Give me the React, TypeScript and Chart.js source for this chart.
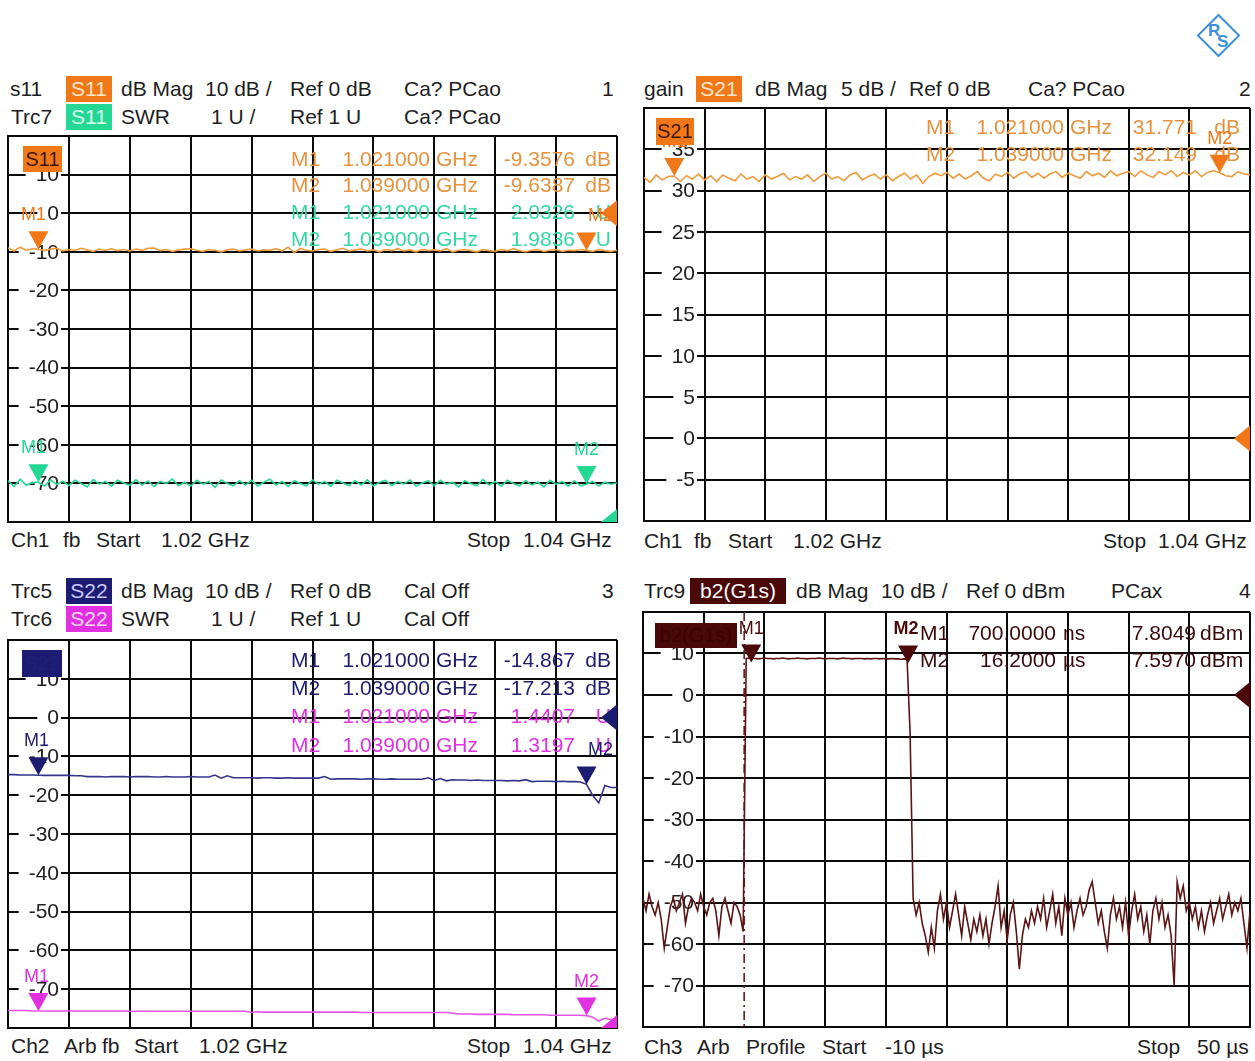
import React, { useEffect, useRef } from "react";
import { Chart, registerables } from "chart.js";

Chart.register(...registerables);

// ---------------- sweep settings (axis categories) ----------------
const sweepStartMHz = 1020;
const sweepStopMHz = 1040;
const sweepPoints = 101;
const profileStartUs = -10;
const profileStopUs = 50;
const profilePoints = 201;

// ---------------- trace values ----------------
const s11DbMag = [
  -9.0, -9.8, -8.8, -9.6, -9.2, -9.36, -9.7, -9.3, -9.1, -9.8,
  -9.4, -9.6, -9.1, -9.5, -9.9, -9.3, -9.6, -9.2, -9.7, -9.4,
  -9.8, -9.3, -9.6, -9.1, -9.0, -9.7, -9.4, -9.9, -9.5, -9.3,
  -9.2, -9.6, -9.9, -9.4, -9.6, -10.0, -9.5, -9.3, -9.8, -9.5,
  -9.3, -9.8, -9.5, -9.6, -9.2, -9.8, -8.8, -10.2, -9.2, -9.6,
  -9.8, -9.4, -9.3, -9.9, -9.5, -9.1, -9.8, -9.5, -9.3, -9.8,
  -9.5, -10.0, -9.4, -9.7, -9.2, -9.8, -9.5, -10.0, -9.4, -9.7,
  -9.5, -9.8, -9.2, -10.0, -9.6, -9.4, -9.7, -10.0, -9.4, -9.7,
  -9.9, -9.4, -9.7, -9.2, -9.7, -10.0, -9.6, -9.4, -9.9, -9.6,
  -9.4, -9.9, -9.6, -9.7, -9.4, -9.64, -9.9, -9.4, -9.7, -9.9, -9.6,
];
const s11Swr = [
  2.07, 1.92, 2.11, 1.95, 2.03, 2.03, 1.93, 2.09, 1.97, 2.06,
  1.94, 2.08, 2.0, 1.91, 2.1, 1.98, 2.05, 1.93, 2.08, 2.01,
  1.95, 2.09, 1.96, 2.06, 1.92, 2.05, 2.0, 2.11, 1.94, 2.03,
  1.93, 2.08, 1.98, 2.05, 1.9, 2.09, 2.0, 1.94, 2.07, 1.96,
  2.08, 1.93, 2.03, 2.11, 1.96, 2.05, 1.92, 2.07, 2.0, 1.94,
  2.09, 1.98, 2.05, 1.93, 2.08, 2.01, 1.94, 2.07, 1.96, 2.09,
  1.93, 2.03, 2.08, 1.94, 2.05, 1.98, 2.09, 1.93, 2.01, 2.07,
  1.94, 2.08, 1.98, 2.03, 1.91, 2.07, 2.0, 1.94, 2.1, 1.96,
  2.05, 1.93, 2.08, 2.0, 1.94, 2.07, 1.96, 2.03, 1.91, 2.08,
  1.98, 2.05, 1.93, 2.07, 1.94, 1.98, 2.05, 1.93, 2.03, 1.98, 2.01,
];
const s21DbMag = [
  31.6, 31.0, 31.9, 31.3, 31.7, 31.77, 31.1, 31.8, 31.4, 32.0,
  31.3, 31.8, 31.1, 31.9, 31.5, 31.2, 32.0, 31.4, 31.7, 31.1,
  31.9, 31.4, 31.7, 32.1, 31.3, 31.7, 31.4, 31.9, 31.1, 31.7,
  32.1, 31.4, 31.7, 31.2, 31.9, 32.2, 31.3, 31.7, 32.0, 31.4,
  31.9, 31.2, 31.7, 32.1, 31.4, 31.9, 30.9, 31.7, 32.1, 31.8,
  32.2, 31.5, 32.0, 31.4, 31.8, 32.3, 31.5, 31.2, 32.0, 31.7,
  32.2, 31.5, 32.0, 32.3, 31.6, 32.1, 31.5, 32.0, 32.3, 31.6,
  32.1, 31.8, 31.5, 32.3, 31.8, 32.1, 31.6, 32.4, 31.8, 32.1,
  32.3, 31.7, 32.4, 31.9, 31.6, 32.3, 31.9, 32.4, 31.7, 32.2,
  31.9, 32.4, 31.7, 32.2, 32.4, 32.15, 31.8, 31.7, 32.3, 32.0, 31.9,
];
const s22DbMag = [
  -14.7, -14.7, -14.8, -14.8, -14.8, -14.87, -14.9, -14.9, -14.9, -14.9, -14.9, -15.0, -15.0,
  -15.2, -15.2, -15.2, -15.3, -15.2, -15.2, -15.2, -15.3, -15.2, -15.2, -15.2, -15.3, -15.3,
  -15.2, -15.3, -15.3, -15.3, -15.2, -15.3, -15.3, -15.3,
  -14.8, -15.6, -15.0, -15.5,
  -15.5, -15.5, -15.5, -15.6, -15.5, -15.5, -15.6, -15.6, -15.5, -15.6, -15.6, -15.6, -15.6, -15.6,
  -15.2, -15.9,
  -15.8, -15.8, -15.8, -15.8, -15.9, -15.8, -15.8, -15.9, -15.9, -15.8, -15.9, -15.9, -15.9, -15.9, -15.9,
  -15.5, -16.2, -15.7, -16.3, -16.0,
  -16.1, -16.1, -16.2, -16.1, -16.2, -16.2, -16.2, -16.2, -16.3, -16.2, -16.3,
  -16.0, -16.5,
  -16.4, -16.4, -16.4, -16.5, -16.4, -16.5, -16.5, -16.6,
  -17.2, -20.0, -22.0, -17.5, -18.0, -18.0,
];
const s22Swr = [
  1.45, 1.45, 1.45, 1.45, 1.44, 1.44, 1.44, 1.44, 1.44, 1.44,
  1.44, 1.44, 1.44, 1.44, 1.44, 1.44, 1.44, 1.44, 1.44, 1.44,
  1.43, 1.43, 1.43, 1.43, 1.43, 1.43, 1.43, 1.43, 1.43, 1.43,
  1.43, 1.43, 1.43, 1.43, 1.43, 1.43, 1.43, 1.43, 1.43, 1.43,
  1.40, 1.42,
  1.41, 1.41, 1.41, 1.41, 1.41, 1.41, 1.41, 1.41, 1.41, 1.41,
  1.41, 1.41, 1.41, 1.41, 1.41, 1.41, 1.40, 1.40, 1.40, 1.40,
  1.40, 1.40, 1.40, 1.40, 1.40, 1.40, 1.40, 1.40, 1.40, 1.40, 1.40,
  1.38, 1.36,
  1.36, 1.36, 1.35, 1.35, 1.35, 1.35, 1.35, 1.35, 1.34, 1.34,
  1.34, 1.34, 1.34, 1.34, 1.33, 1.33, 1.33, 1.33, 1.33, 1.33,
  1.32, 1.28, 1.18, 1.25, 1.22, 1.2,
];
const b2PreGate = [
  -49, -52, -48, -51, -53, -50, -54, -61, -56, -51,
  -49, -52, -50, -48, -55, -51, -49, -50, -52, -48,
  -51, -53, -50, -49, -52, -58, -51, -49, -52, -55,
  -50, -51, -53, -57,
];
const b2Pulse = [
  8.8, 8.9, 8.8, 8.8, 8.7, 8.8, 8.9, 8.8, 8.8, 8.7,
  8.8, 8.8, 8.9, 8.8, 8.7, 8.8, 8.8, 8.9, 8.8, 8.8,
  8.7, 8.8, 8.8, 8.8, 8.9, 8.8, 8.7, 8.8, 8.8, 8.8,
  8.7, 8.8, 8.9, 8.8, 8.8, 8.7, 8.8, 8.8, 8.8, 8.7,
  8.8, 8.7, 8.8, 8.8, 8.7, 8.8, 8.7, 8.7, 8.8, 8.7,
  8.7, 8.6, 8.7, 8.6,
];
const b2PostPulse = [
  -9, -49, -53, -50, -55, -58, -62, -56, -61, -52,
  -48, -54, -50, -56, -52, -48, -53, -58, -51, -55,
  -59, -54, -57, -53, -58, -54, -60, -55, -51, -46,
  -56, -52, -59, -53, -50, -57, -66, -58, -54, -56,
  -52, -55, -51, -54, -49, -56, -52, -48, -55, -51,
  -58, -49, -53, -50, -56, -52, -49, -53, -51, -47,
  -45, -50, -55, -52, -57, -61, -53, -49, -54, -51,
  -56, -50, -58, -52, -48, -54, -51, -57, -53, -60,
  -52, -49, -54, -50, -56, -53, -58, -70, -45, -49,
  -46, -52, -50, -54, -51, -56, -52, -57, -53, -50,
  -55, -52, -49, -54, -51, -48, -53, -50, -52, -49,
  -55, -61, -52,
];

// ---------------- markers ----------------
const markerFreqMHz = [1021, 1039];
const s11DbMarkers = [-9.3576, -9.6387];
const s11SwrMarkers = [2.0326, 1.9836];
const s21DbMarkers = [31.771, 32.149];
const s22DbMarkers = [-14.867, -17.213];
const s22SwrMarkers = [1.4407, 1.3197];
const b2MarkerTimeUs = [0.7, 16.2];
const b2Markers = [7.8049, 7.597];
const gateTimeUs = 0;

// ---------------- tick labels ----------------
const ticksDb10 = [10, 0, -10, -20, -30, -40, -50, -60, -70];
const ticksDb5 = [35, 30, 25, 20, 15, 10, 5, 0, -5];

// ---------------- style ----------------
const FONT = '"Liberation Sans", Arial, sans-serif';
const FS = 21;
const TEXT = "#1e1e1e";
const GRID = "#0a0a0a";
const ORANGE = "#f07818";
const ORANGE_TXT = "#e8923e";
const ORANGE_TRACE = "#f09a3a";
const GREEN = "#22d892";
const GREEN_TXT = "#34d8a2";
const NAVY = "#1c1c72";
const NAVY_TRACE = "#34348c";
const MAGENTA = "#e030e0";
const MAGENTA_TRACE = "#e452e8";
const BROWN = "#4a0808";
const BROWN_TRACE = "#5c1414";

const freqAxis = Array.from(
  { length: sweepPoints },
  (_, i) => sweepStartMHz + (i * (sweepStopMHz - sweepStartMHz)) / (sweepPoints - 1)
);
const timeAxis = Array.from(
  { length: profilePoints },
  (_, i) => profileStartUs + (i * (profileStopUs - profileStartUs)) / (profilePoints - 1)
);
const b2Values = [...b2PreGate, ...b2Pulse, ...b2PostPulse];
const pts = (xs: number[], ys: number[]) => ys.map((y, i) => ({ x: xs[i], y }));

type Cell = { t: string; dx: number; align: CanvasTextAlign };
type Row = { color: string; dy: number; cells: Cell[] };
type Marker = { x: number; y: number; axis: string; color: string; label: string; ldx?: number; bold?: boolean };
type Ref = { axis: string; value: number; color: string };
type Box = { dx: number; dy: number; w: number; h: number; bg: string; text: string; color: string };
type Overlay = {
  yLabels: number[];
  readouts: Row[];
  markers: Marker[];
  refs: Ref[];
  boxes: Box[];
  gate?: { x: number; color: string };
};

type Cols = { m: number; f: number; fu: number; v: number; vu: number };
const colsL: Cols = { m: 283, f: 422, fu: 428, v: 567, vu: 603 };
const colsR: Cols = { m: 282, f: 420, fu: 426, v: 553, vu: 596 };

function freqRow(color: string, dy: number, label: string, fMHz: number, val: string, unit: string, c: Cols): Row {
  return {
    color,
    dy,
    cells: [
      { t: label, dx: c.m, align: "left" },
      { t: (fMHz / 1000).toFixed(6), dx: c.f, align: "right" },
      { t: "GHz", dx: c.fu, align: "left" },
      { t: val, dx: c.v, align: "right" },
      { t: unit, dx: c.vu, align: "right" },
    ],
  };
}

function makeOverlay(o: Overlay) {
  return {
    id: "vnaOverlay",
    beforeDatasetsDraw(chart: any) {
      const { ctx, chartArea: a, scales } = chart;
      ctx.save();
      ctx.font = `${FS}px ${FONT}`;
      ctx.textBaseline = "middle";
      ctx.textAlign = "right";
      const right = a.left + 51;
      for (const v of o.yLabels) {
        const py = scales.y.getPixelForValue(v);
        const t = String(v);
        const w = ctx.measureText(t).width;
        ctx.fillStyle = "#ffffff";
        ctx.fillRect(right - w - 10, py - 10, w + 12, 20);
        ctx.fillStyle = TEXT;
        ctx.fillText(t, right, py + 1);
      }
      if (o.gate) {
        const px = scales.x.getPixelForValue(o.gate.x);
        ctx.strokeStyle = o.gate.color;
        ctx.lineWidth = 1.6;
        ctx.setLineDash([9, 4, 2, 4]);
        ctx.beginPath();
        ctx.moveTo(px, a.top);
        ctx.lineTo(px, a.bottom);
        ctx.stroke();
        ctx.setLineDash([]);
      }
      ctx.restore();
    },
    afterDatasetsDraw(chart: any) {
      const { ctx, chartArea: a, scales } = chart;
      ctx.save();
      ctx.beginPath();
      ctx.rect(a.left, a.top, a.right - a.left, a.bottom - a.top);
      ctx.clip();
      ctx.textBaseline = "middle";
      for (const r of o.readouts) {
        ctx.fillStyle = r.color;
        ctx.font = `${FS}px ${FONT}`;
        for (const c of r.cells) {
          ctx.textAlign = c.align;
          ctx.fillText(c.t, a.left + c.dx, a.top + r.dy);
        }
      }
      for (const m of o.markers) {
        const px = scales.x.getPixelForValue(m.x);
        const py = scales[m.axis].getPixelForValue(m.y);
        ctx.fillStyle = m.color;
        ctx.beginPath();
        ctx.moveTo(px, py);
        ctx.lineTo(px - 10, py - 18);
        ctx.lineTo(px + 10, py - 18);
        ctx.closePath();
        ctx.fill();
        ctx.font = `${m.bold ? "bold " : ""}18px ${FONT}`;
        ctx.textAlign = "center";
        ctx.fillText(m.label, px + (m.ldx || 0), py - 34);
      }
      for (const r of o.refs) {
        const py = scales[r.axis].getPixelForValue(r.value);
        ctx.fillStyle = r.color;
        ctx.beginPath();
        ctx.moveTo(a.right - 16, py);
        ctx.lineTo(a.right, py - 13);
        ctx.lineTo(a.right, py + 13);
        ctx.closePath();
        ctx.fill();
      }
      for (const b of o.boxes) {
        ctx.fillStyle = b.bg;
        ctx.fillRect(a.left + b.dx, a.top + b.dy, b.w, b.h);
        ctx.fillStyle = b.color;
        ctx.font = `${FS - 1}px ${FONT}`;
        ctx.textAlign = "center";
        ctx.fillText(b.text, a.left + b.dx + b.w / 2, a.top + b.dy + b.h / 2 + 1);
      }
      ctx.restore();
    },
  };
}

type PanelDef = {
  box: { x: number; y: number; w: number; h: number };
  xMin: number;
  xMax: number;
  yMin: number;
  yMax: number;
  y2?: { min: number; max: number };
  datasets: { data: { x: number; y: number }[]; color: string; axis: string }[];
  overlay: Overlay;
};

const PAD = 4;

function Panel({ def }: { def: PanelDef }) {
  const ref = useRef<HTMLCanvasElement>(null);
  useEffect(() => {
    const gridOpts = { color: GRID, lineWidth: 2, drawTicks: false };
    const borderOpts = { display: true, color: GRID, width: 2 };
    const scales: any = {
      x: {
        type: "linear",
        min: def.xMin,
        max: def.xMax,
        ticks: { display: false, count: 11 },
        grid: gridOpts,
        border: borderOpts,
      },
      y: {
        type: "linear",
        min: def.yMin,
        max: def.yMax,
        ticks: { display: false, count: 11 },
        grid: gridOpts,
        border: borderOpts,
      },
    };
    if (def.y2) {
      scales.y2 = { type: "linear", display: false, min: def.y2.min, max: def.y2.max };
    }
    const chart = new Chart(ref.current as HTMLCanvasElement, {
      type: "line",
      data: {
        datasets: def.datasets.map((d) => ({
          data: d.data,
          borderColor: d.color,
          borderWidth: 1.6,
          pointRadius: 0,
          tension: 0,
          fill: false,
          yAxisID: d.axis,
        })),
      },
      options: {
        animation: false,
        responsive: false,
        maintainAspectRatio: false,
        events: [],
        layout: { padding: PAD },
        plugins: { legend: { display: false }, tooltip: { enabled: false } },
        scales,
      },
      plugins: [makeOverlay(def.overlay)],
    } as any);
    return () => chart.destroy();
  }, []);
  const w = def.box.w + 2 * PAD;
  const h = def.box.h + 2 * PAD;
  return (
    <canvas
      ref={ref}
      width={w}
      height={h}
      style={{ position: "absolute", left: def.box.x - PAD, top: def.box.y - PAD, width: w, height: h }}
    />
  );
}

// ---------------- panel definitions ----------------
const panelS11: PanelDef = {
  box: { x: 8, y: 136, w: 609, h: 386 },
  xMin: sweepStartMHz,
  xMax: sweepStopMHz,
  yMin: -80,
  yMax: 20,
  y2: { min: 1, max: 11 },
  datasets: [
    { data: pts(freqAxis, s11Swr), color: GREEN, axis: "y2" },
    { data: pts(freqAxis, s11DbMag), color: ORANGE_TRACE, axis: "y" },
  ],
  overlay: {
    yLabels: ticksDb10,
    readouts: [
      freqRow(ORANGE_TXT, 24, "M1", markerFreqMHz[0], s11DbMarkers[0].toFixed(4), "dB", colsL),
      freqRow(ORANGE_TXT, 50, "M2", markerFreqMHz[1], s11DbMarkers[1].toFixed(4), "dB", colsL),
      freqRow(GREEN_TXT, 77, "M1", markerFreqMHz[0], s11SwrMarkers[0].toFixed(4), "U", colsL),
      freqRow(GREEN_TXT, 104, "M2", markerFreqMHz[1], s11SwrMarkers[1].toFixed(4), "U", colsL),
    ],
    markers: [
      { x: markerFreqMHz[0], y: s11DbMarkers[0], axis: "y", color: ORANGE, label: "M1", ldx: -5 },
      { x: markerFreqMHz[1], y: s11DbMarkers[1], axis: "y", color: ORANGE, label: "M2", ldx: 14 },
      { x: markerFreqMHz[0], y: s11SwrMarkers[0], axis: "y2", color: GREEN, label: "M1", ldx: -5 },
      { x: markerFreqMHz[1], y: s11SwrMarkers[1], axis: "y2", color: GREEN, label: "M2", ldx: 0 },
    ],
    refs: [
      { axis: "y", value: 0, color: ORANGE },
      { axis: "y2", value: 1, color: GREEN },
    ],
    boxes: [{ dx: 15, dy: 10, w: 39, h: 26, bg: ORANGE, text: "S11", color: "#3a1800" }],
  },
};

const panelS21: PanelDef = {
  box: { x: 644, y: 108, w: 606, h: 413 },
  xMin: sweepStartMHz,
  xMax: sweepStopMHz,
  yMin: -10,
  yMax: 40,
  datasets: [{ data: pts(freqAxis, s21DbMag), color: ORANGE_TRACE, axis: "y" }],
  overlay: {
    yLabels: ticksDb5,
    readouts: [
      freqRow(ORANGE_TXT, 20, "M1", markerFreqMHz[0], s21DbMarkers[0].toFixed(3), "dB", colsR),
      freqRow(ORANGE_TXT, 47, "M2", markerFreqMHz[1], s21DbMarkers[1].toFixed(3), "dB", colsR),
    ],
    markers: [
      { x: markerFreqMHz[0], y: s21DbMarkers[0], axis: "y", color: ORANGE, label: "M1", ldx: 0 },
      { x: markerFreqMHz[1], y: s21DbMarkers[1], axis: "y", color: ORANGE, label: "M2", ldx: 0 },
    ],
    refs: [{ axis: "y", value: 0, color: ORANGE }],
    boxes: [{ dx: 12, dy: 10, w: 38, h: 27, bg: ORANGE, text: "S21", color: "#3a1800" }],
  },
};

const panelS22: PanelDef = {
  box: { x: 8, y: 640, w: 609, h: 388 },
  xMin: sweepStartMHz,
  xMax: sweepStopMHz,
  yMin: -80,
  yMax: 20,
  y2: { min: 1, max: 11 },
  datasets: [
    { data: pts(freqAxis, s22Swr), color: MAGENTA_TRACE, axis: "y2" },
    { data: pts(freqAxis, s22DbMag), color: NAVY_TRACE, axis: "y" },
  ],
  overlay: {
    yLabels: ticksDb10,
    readouts: [
      freqRow(NAVY, 21, "M1", markerFreqMHz[0], s22DbMarkers[0].toFixed(3), "dB", colsL),
      freqRow(NAVY, 49, "M2", markerFreqMHz[1], s22DbMarkers[1].toFixed(3), "dB", colsL),
      freqRow(MAGENTA, 77, "M1", markerFreqMHz[0], s22SwrMarkers[0].toFixed(4), "U", colsL),
      freqRow(MAGENTA, 106, "M2", markerFreqMHz[1], s22SwrMarkers[1].toFixed(4), "U", colsL),
    ],
    markers: [
      { x: markerFreqMHz[0], y: s22DbMarkers[0], axis: "y", color: NAVY, label: "M1", ldx: -2 },
      { x: markerFreqMHz[1], y: s22DbMarkers[1], axis: "y", color: NAVY, label: "M2", ldx: 14 },
      { x: markerFreqMHz[0], y: s22SwrMarkers[0], axis: "y2", color: MAGENTA, label: "M1", ldx: -2 },
      { x: markerFreqMHz[1], y: s22SwrMarkers[1], axis: "y2", color: MAGENTA, label: "M2", ldx: 0 },
    ],
    refs: [
      { axis: "y", value: 0, color: NAVY },
      { axis: "y2", value: 1, color: MAGENTA },
    ],
    boxes: [{ dx: 14, dy: 10, w: 40, h: 27, bg: NAVY, text: "S22", color: "#202076" }],
  },
};

const timeRow = (dy: number, label: string, tUs: number, val: number): Row => {
  const ns = tUs < 1;
  return {
    color: "#3a0a0a",
    dy,
    cells: [
      { t: label, dx: 277, align: "left" },
      { t: (ns ? tUs * 1000 : tUs).toFixed(4), dx: 413, align: "right" },
      { t: ns ? "ns" : "µs", dx: 420, align: "left" },
      { t: val.toFixed(4), dx: 553, align: "right" },
      { t: "dBm", dx: 557, align: "left" },
    ],
  };
};

const panelB2: PanelDef = {
  box: { x: 643, y: 612, w: 607, h: 415 },
  xMin: profileStartUs,
  xMax: profileStopUs,
  yMin: -80,
  yMax: 20,
  datasets: [{ data: pts(timeAxis, b2Values), color: BROWN_TRACE, axis: "y" }],
  overlay: {
    yLabels: ticksDb10,
    readouts: [
      timeRow(22, "M1", b2MarkerTimeUs[0], b2Markers[0]),
      timeRow(49, "M2", b2MarkerTimeUs[1], b2Markers[1]),
    ],
    markers: [
      { x: b2MarkerTimeUs[0], y: b2Markers[0], axis: "y", color: BROWN, label: "M1", ldx: 0 },
      { x: b2MarkerTimeUs[1], y: b2Markers[1], axis: "y", color: BROWN, label: "M2", ldx: -2, bold: true },
    ],
    refs: [{ axis: "y", value: 0, color: BROWN }],
    boxes: [{ dx: 12, dy: 11, w: 82, h: 25, bg: BROWN, text: "b2(G1s)", color: "#3a0404" }],
    gate: { x: gateTimeUs, color: "#6a1a1a" },
  },
};

// ---------------- header / footer text ----------------
type Word = [number, string];
const headS11a: Word[] = [[10, "s11"], [121, "dB Mag"], [205, "10 dB /"], [290, "Ref 0 dB"], [404, "Ca? PCao"], [602, "1"]];
const headS11b: Word[] = [[11, "Trc7"], [121, "SWR"], [211, "1 U /"], [290, "Ref 1 U"], [404, "Ca? PCao"]];
const headS21: Word[] = [[644, "gain"], [755, "dB Mag"], [841, "5 dB /"], [909, "Ref 0 dB"], [1028, "Ca? PCao"], [1239, "2"]];
const headS22a: Word[] = [[11, "Trc5"], [121, "dB Mag"], [205, "10 dB /"], [290, "Ref 0 dB"], [404, "Cal Off"], [602, "3"]];
const headS22b: Word[] = [[11, "Trc6"], [121, "SWR"], [211, "1 U /"], [290, "Ref 1 U"], [404, "Cal Off"]];
const headB2: Word[] = [[644, "Trc9"], [796, "dB Mag"], [881, "10 dB /"], [966, "Ref 0 dBm"], [1111, "PCax"], [1239, "4"]];
const footS11: Word[] = [[11, "Ch1"], [63, "fb"], [96, "Start"], [161, "1.02 GHz"], [467, "Stop"], [523, "1.04 GHz"]];
const footS21: Word[] = [[644, "Ch1"], [694, "fb"], [728, "Start"], [793, "1.02 GHz"], [1103, "Stop"], [1158, "1.04 GHz"]];
const footS22: Word[] = [[11, "Ch2"], [64, "Arb"], [102, "fb"], [134, "Start"], [199, "1.02 GHz"], [467, "Stop"], [523, "1.04 GHz"]];
const footB2: Word[] = [[644, "Ch3"], [697, "Arb"], [746, "Profile"], [822, "Start"], [885, "-10 µs"], [1137, "Stop"], [1197, "50 µs"]];

function Words({ words, y }: { words: Word[]; y: number }) {
  return (
    <>
      {words.map(([x, t], i) => (
        <div
          key={i}
          style={{
            position: "absolute",
            left: x,
            top: y - 12,
            height: 24,
            lineHeight: "24px",
            fontSize: FS,
            fontFamily: FONT,
            color: TEXT,
            whiteSpace: "pre",
          }}
        >
          {t}
        </div>
      ))}
    </>
  );
}

function Tag({ x, y, w, bg, color, text }: { x: number; y: number; w: number; bg: string; color: string; text: string }) {
  return (
    <div
      style={{
        position: "absolute",
        left: x,
        top: y - 13,
        width: w,
        height: 26,
        lineHeight: "26px",
        background: bg,
        color,
        fontSize: FS,
        fontFamily: FONT,
        textAlign: "center",
        whiteSpace: "pre",
      }}
    >
      {text}
    </div>
  );
}

function Logo() {
  return (
    <div style={{ position: "absolute", left: 1196, top: 13, width: 44, height: 44 }}>
      <div
        style={{
          position: "absolute",
          left: 7,
          top: 7,
          width: 27,
          height: 27,
          border: "2.5px solid #3d8fd8",
          transform: "rotate(45deg)",
        }}
      />
      <div style={{ position: "absolute", left: 12, top: 8, fontSize: 17, fontFamily: FONT, color: "#3d8fd8", fontWeight: "bold" }}>
        R
      </div>
      <div style={{ position: "absolute", left: 21, top: 19, fontSize: 17, fontFamily: FONT, color: "#3d8fd8", fontWeight: "bold" }}>
        S
      </div>
    </div>
  );
}

export default function App() {
  return (
    <div
      style={{
        position: "absolute",
        left: 0,
        top: 0,
        width: 1255,
        height: 1061,
        background: "#ffffff",
        overflow: "hidden",
      }}
    >
      <Logo />
      <Words words={headS11a} y={89} />
      <Tag x={66} y={89} w={46} bg={ORANGE} color="#ffe6cc" text="S11" />
      <Words words={headS11b} y={117} />
      <Tag x={66} y={117} w={46} bg={GREEN} color="#d8fff0" text="S11" />
      <Panel def={panelS11} />
      <Words words={footS11} y={540} />

      <Words words={headS21} y={89} />
      <Tag x={696} y={89} w={46} bg={ORANGE} color="#ffe6cc" text="S21" />
      <Panel def={panelS21} />
      <Words words={footS21} y={541} />

      <Words words={headS22a} y={591} />
      <Tag x={66} y={591} w={46} bg={NAVY} color="#c8c8ff" text="S22" />
      <Words words={headS22b} y={619} />
      <Tag x={66} y={619} w={46} bg={MAGENTA} color="#ffd8ff" text="S22" />
      <Panel def={panelS22} />
      <Words words={footS22} y={1046} />

      <Words words={headB2} y={591} />
      <Tag x={690} y={591} w={96} bg={BROWN} color="#ffffff" text="b2(G1s)" />
      <Panel def={panelB2} />
      <Words words={footB2} y={1047} />
    </div>
  );
}
